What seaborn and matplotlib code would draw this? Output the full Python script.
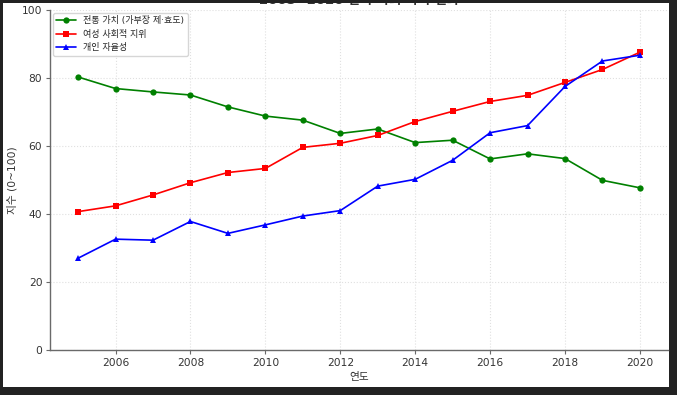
import matplotlib
matplotlib.use("Agg")
import matplotlib.pyplot as plt
from matplotlib.patches import Rectangle
import seaborn as sns
import pandas as pd

years = list(range(2005, 2021))
traditional = [80.3, 76.9, 75.9, 75.0, 71.5, 68.8, 67.6, 63.7, 65.0, 61.0, 61.7, 56.2, 57.7, 56.3, 49.9, 47.7]
equality = [40.7, 42.4, 45.6, 49.2, 52.2, 53.4, 59.6, 60.8, 63.1, 67.2, 70.2, 73.1, 74.9, 78.7, 82.5, 87.6]
individual = [27.0, 32.6, 32.3, 37.8, 34.3, 36.8, 39.4, 41.0, 48.2, 50.2, 55.8, 63.9, 66.0, 77.5, 85.0, 86.7]
series_names = ["전통 가치 (가부장 제·효도)", "여성 사회적 지위", "개인 자율성"]
title_text = "2005~2020 한국 사회 가치 변화"
xlabel_text = "연도"
ylabel_text = "지수 (0~100)"
xticks = [2006, 2008, 2010, 2012, 2014, 2016, 2018, 2020]
yticks = [0, 20, 40, 60, 80, 100]

sns.set_theme(style="ticks")
plt.rcParams['font.family'] = ['DejaVu Sans', 'Noto Sans CJK KR']
plt.rcParams['axes.unicode_minus'] = False

df = pd.DataFrame({
    "year": years * 3,
    "value": traditional + equality + individual,
    "series": [series_names[0]] * len(years) + [series_names[1]] * len(years) + [series_names[2]] * len(years),
})

W, H = 677, 395
fig = plt.figure(figsize=(W / 100, H / 100), dpi=100)
fig.patch.set_facecolor("#222222")
fig.patches.append(Rectangle((3 / W, 1 - 387 / H), (669 - 3) / W, (387 - 3) / H,
                             transform=fig.transFigure, facecolor="white", edgecolor="none", zorder=-5))

ax = fig.add_axes([50 / W, 1 - 350 / H, (668 - 50) / W, 340 / H])
ax.set_facecolor("white")

palette = {series_names[0]: "green", series_names[1]: "red", series_names[2]: "blue"}
markers = {series_names[0]: "o", series_names[1]: "s", series_names[2]: "^"}
sns.lineplot(data=df, x="year", y="value", hue="series", style="series",
             hue_order=series_names, style_order=series_names,
             palette=palette, markers=markers, dashes=False,
             linewidth=1.2, markersize=4.5, markeredgewidth=0, ax=ax)

ax.set_xlim(2004.25, 2020.75)
ax.set_ylim(0, 100)
ax.set_xticks(xticks)
ax.set_yticks(yticks)
ax.grid(True, linestyle=":", color="#e0e0e0", linewidth=0.8)
sns.despine(ax=ax)
for s in ["left", "bottom"]:
    ax.spines[s].set_color("#6a6a6a")
    ax.spines[s].set_linewidth(1.0)
ax.tick_params(colors="#6a6a6a", labelcolor="#333333", labelsize=7.7, length=3, width=0.8, pad=2.5)
ax.set_xlabel(xlabel_text, fontsize=7.7, color="#333333", labelpad=3)
ax.set_ylabel(ylabel_text, fontsize=7.7, color="#333333", labelpad=3)
ax.set_title(title_text, fontsize=9.5, color="#333333", fontweight="bold", pad=4)

leg = ax.legend(loc="upper left", fontsize=6.5, frameon=True, title=None,
                borderaxespad=0.3, handlelength=2.2)
leg.get_frame().set_edgecolor("#cccccc")

fig.patches.append(Rectangle((0, 1 - 3 / H), 1, 3 / H, transform=fig.transFigure,
                             facecolor="#222222", edgecolor="none", zorder=10))

fig.savefig("out.png", dpi=100, facecolor=fig.get_facecolor())
